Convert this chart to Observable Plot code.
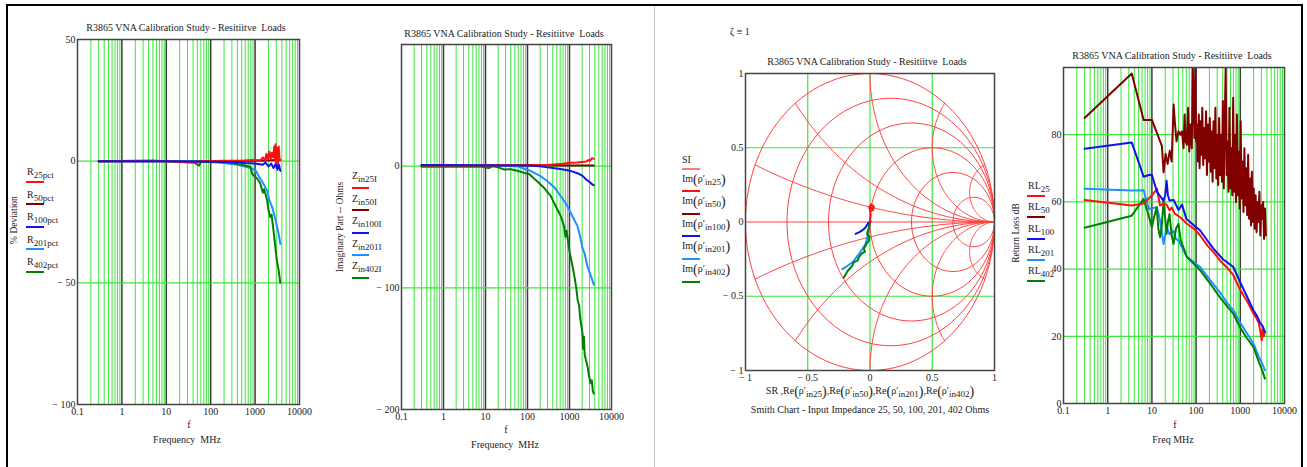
<!DOCTYPE html>
<html><head><meta charset="utf-8">
<script src="https://cdn.jsdelivr.net/npm/d3@7"></script>
<script src="https://cdn.jsdelivr.net/npm/@observablehq/plot@0.6"></script>
<style>
body{margin:0;background:#fff;}
#root{position:relative;width:1307px;height:467px;overflow:hidden;font-family:"Liberation Serif","Times New Roman",serif;color:#222;}
.t{position:absolute;white-space:nowrap;font-size:10px;line-height:1;}
.c{transform:translate(-50%,-50%);}
.l{transform:translate(0,-50%);}
.rot{transform:translate(-50%,-50%) rotate(-90deg);font-size:9.5px;}
.t sub{font-size:9px;vertical-align:-3px;line-height:0;}
.big{font-size:14px;vertical-align:-2px;}
.ln{position:absolute;height:2px;}
.bar{position:absolute;background:#000;}
</style></head><body><div id="root"></div><script>
// ---------- data ----------
const xTicks = [0.1, 1, 10, 100, 1000, 10000];
const decades = [0.1, 1, 10, 100, 1000];
const decadeLines = [1, 10, 100, 1000];
const chartTitle = "R3865 VNA Calibration Study - Resitiitve\u00a0 Loads";

// Panel 1: % deviation [freq MHz, %]
const r25pct = [[0.3,0],[5,0.3],[20,-0.3],[40,-0.6],[60,0],[200,0.2],[600,0.3],[1000,0.5],[1300,0.3],[1500,1.5],[1700,0.5],[1800,3],[1950,0.8],[2100,4],[2250,1],[2400,3.5],[2550,1.5],[2700,6],[2800,0.5],[2900,7],[3000,-1],[3100,5.5],[3250,-2],[3400,6],[3550,1],[3700,0.5]];
const r50pct = [[0.3,0],[100,0],[1000,0.2],[3700,0.5]];
const r100pct = [[0.3,0],[10,0],[100,-0.2],[300,-0.3],[600,-0.8],[1000,-1],[1500,-1.5],[1700,-0.5],[2000,-2.2],[2300,-1],[2600,-2.8],[2900,-1.2],[3200,-3.5],[3450,-1.5],[3700,-4]];
const r201pct = [[0.3,0],[30,0],[100,-0.3],[200,-0.8],[400,-1.5],[700,-2.5],[1020,-3.7],[1200,-6],[1450,-8.5],[1860,-12],[2100,-16],[2430,-19],[2880,-24],[3400,-30],[3700,-34]];
const r402pct = [[0.3,0],[10,0],[40,-0.3],[55,-1.8],[60,-0.2],[150,-0.3],[300,-0.8],[500,-1.5],[780,-2.3],[850,-5],[920,-5.8],[1100,-7],[1300,-9],[1500,-13],[1600,-11.5],[1860,-16],[2000,-20],[2200,-23],[2350,-22],[2600,-28.5],[2800,-34],[3100,-41],[3400,-45],[3700,-50]];

// Panel 2: imaginary part, ohms
const zin25I = [[0.3,0.5],[10,0.5],[100,1],[300,1],[700,2],[1000,2.8],[1500,3],[2000,3.5],[2500,3.8],[2800,5],[3100,4.5],[3400,6.5],[3800,6]];
const zin50I = [[0.3,0.5],[3800,0.5]];
const zin100I = [[0.3,1],[100,0.5],[200,0],[300,-1],[500,-2],[900,-3.3],[1200,-4.5],[1600,-6],[2040,-8],[2500,-11],[3000,-13],[3500,-15],[3800,-15.7]];
const zin201I = [[0.3,0.5],[10,0.5],[57,0],[90,-2.5],[120,-4],[200,-8],[300,-12.4],[450,-18],[620,-24.7],[800,-30],[980,-35.7],[1250,-43],[1560,-49.5],[1800,-58],[2030,-67],[2300,-72],[2660,-82],[3200,-90],[3800,-97.5]];
const zin402I = [[0.3,-0.5],[8,-0.5],[12,-1.5],[15,0],[20,-1],[28,-2.7],[40,-2.5],[60,-4],[83,-5.5],[110,-6.5],[140,-10],[170,-12.4],[250,-18],[360,-24.7],[470,-33],[620,-41],[750,-50],[800,-58],[850,-53],[900,-59],[1000,-70],[1140,-79.6],[1300,-90],[1450,-100],[1560,-110],[1700,-115],[1800,-125],[2030,-137],[2100,-150],[2200,-140],[2300,-155],[2450,-159],[2700,-165],[2900,-172],[3200,-178.5],[3400,-176],[3600,-185],[3800,-187]];

// Panel 3: Smith chart reflection coefficients [Re, Im]
const rho25 = [[0,0],[0.005,0.05],[0,0.08],[-0.005,0.1],[0.01,0.12],[0.03,0.105],[0.025,0.08],[0.005,0.075],[-0.005,0.095],[0.03,0.095]];
const rho50 = [[0,0],[0.005,0.005],[0,0.01]];
const rho100 = [[0,0],[-0.01,-0.003],[-0.02,-0.015],[-0.036,-0.037],[-0.06,-0.055],[-0.085,-0.068],[-0.116,-0.08]];
const rho201 = [[0,0],[-0.005,-0.03],[-0.01,-0.06],[-0.02,-0.1],[-0.036,-0.149],[-0.06,-0.18],[-0.09,-0.216],[-0.12,-0.25],[-0.143,-0.273],[-0.18,-0.295],[-0.223,-0.317]];
const rho402 = [[0,0],[-0.01,-0.04],[-0.023,-0.081],[-0.005,-0.1],[-0.01,-0.127],[-0.03,-0.15],[-0.05,-0.18],[-0.04,-0.2],[-0.07,-0.215],[-0.09,-0.239],[-0.1,-0.26],[-0.13,-0.27],[-0.143,-0.295],[-0.18,-0.33],[-0.21,-0.374]];
const smithR = [0.2, 0.5, 1, 2, 5];
const smithX = [0.2, 0.5, 1, 2, 5];
const smithTicks = [-1, -0.5, 0, 0.5, 1];

// Panel 4: return loss dB
const rl25 = [[0.3,60.6],[3.5,58.9],[6.5,59.5],[10,61.9],[13,63.9],[15.3,58.9],[18,59.5],[21.5,59.2],[25,57.5],[28,58.3],[33,56.5],[44,55.4],[62,53.5],[90,52],[124,50],[180,47],[250,45],[350,42.5],[500,40.5],[700,38.1],[900,35],[1200,32],[1500,30],[1990,26.7],[2300,25.5],[2600,24],[2800,22],[3050,18.8],[3200,22],[3400,20],[3600,21.3]];
const rl50 = [[0.3,85],[3.5,98.2],[6.5,84.4],[10,84.4],[16.8,76.7],[18.4,68.8],[20.4,74.3],[22.7,71.3],[25.3,75.2],[28,72],[31,89],[33,84],[36,78],[40,81],[44,80],[48,81],[52,76],[55,86],[58,78],[62,77],[66,88],[70,75],[74,83],[80,76],[84,100],[88,90],[92,79],[96,100],[100,78],[105,83],[110,72],[115,86],[120,70],[126,84],[132,74],[138,88],[145,71],[152,82],[160,73],[168,87],[176,68],[185,83],[194,72],[204,85],[214,69],[225,81],[236,66],[248,84],[260,70],[273,88],[287,67],[301,80],[316,65],[332,85],[349,68],[366,80],[384,66],[403,90],[423,64],[445,84],[467,100],[490,68],[515,78],[540,63],[567,88],[596,64],[625,76],[657,62],[690,91],[724,63],[760,80],[798,60],[838,86],[880,62],[924,75],[970,58],[1019,84],[1070,61],[1123,72],[1180,57],[1239,76],[1300,59],[1365,70],[1434,56],[1506,74],[1580,55],[1660,67],[1743,53],[1830,69],[1922,54],[2018,64],[2119,52],[2225,62],[2336,51],[2453,60],[2575,54],[2704,63],[2840,50],[2982,59],[3131,55],[3287,60],[3450,49],[3620,58],[3800,50]];
const rl100 = [[0.3,75.8],[3.5,77.7],[6.5,67.5],[8.5,68],[10,68.1],[13,63],[18.3,60.4],[20,62],[21.5,66.3],[23,62],[25,60.4],[31,60.6],[40,57.6],[48,59.2],[60,55],[90,53],[124,51.5],[180,48.5],[250,46],[400,43],[700,40.6],[1000,36],[1400,32],[1990,27.7],[2400,26],[2800,24],[3200,23],[3600,21.3]];
const rl201 = [[0.3,63.9],[3.5,63.4],[6.5,63.5],[8.5,57.9],[13,58.4],[15,55],[18.3,47.5],[21.5,52.4],[25,50.4],[31,51.4],[35,49],[40,48.5],[62,43.6],[90,42],[124,40.6],[200,37],[350,33],[500,30],[700,27.7],[1000,24],[1400,21],[1990,17.8],[2600,14],[3100,12],[3600,9.9]];
const rl402 = [[0.3,52.3],[3.5,55.9],[6.5,60.9],[8,57],[10,52.5],[11,55],[12.8,58.4],[14,52],[15.3,49.5],[16.5,52],[18.4,60.4],[20,55],[21.5,50.5],[23,54],[25,56.4],[28,50],[31,47.5],[35,52],[40,53.5],[45,48.5],[62,43.6],[90,41.5],[124,39.6],[200,36],[350,31.5],[500,29],[700,26.7],[1000,22.5],[1400,19.5],[1990,16.8],[2600,12.5],[3100,10],[3600,7.4]];

// ---------- styles ----------
const C = {red:"#ff1010", dred:"#800000", blue:"#1010f0", lblue:"#2090ff", green:"#008000", grid:"#3ee63e", smith:"#ff4040"};
const root = document.getElementById("root");
const fmt = d => d < 0 ? "\u2212 " + Math.abs(d) : String(d);

function place(svg, left, top) {
  svg.style.position = "absolute"; svg.style.left = left + "px"; svg.style.top = top + "px";
  root.appendChild(svg);
}
function text(html, x, y, cls) {
  const d = document.createElement("div");
  d.className = "t " + (cls || "c"); d.innerHTML = html;
  d.style.left = x + "px"; d.style.top = y + "px"; root.appendChild(d);
}
function seg(x, y, w, color) {
  const d = document.createElement("div"); d.className = "ln";
  d.style.left = x + "px"; d.style.top = (y - 1) + "px"; d.style.width = w + "px"; d.style.background = color;
  root.appendChild(d);
}
function box(x, y, w, h, color) {
  const d = document.createElement("div"); d.className = "bar";
  Object.assign(d.style, {left:x+"px", top:y+"px", width:w+"px", height:h+"px", background:color});
  root.appendChild(d);
}
const minor = [];
for (const d of decades) for (let k = 2; k < 10; k++) minor.push(d * k);

function logPanel({series, yDomain, yTicks, hGrid, width, height, ml, mr, mt, mb}) {
  return Plot.plot({
    width, height, marginLeft: ml, marginRight: mr, marginTop: mt, marginBottom: mb,
    style: {fontFamily: "Liberation Serif, serif", fontSize: "10px", background: "transparent", overflow: "visible", color: "#222"},
    x: {type: "log", domain: [0.1, 10000]},
    y: {domain: yDomain},
    marks: [
      Plot.ruleX(minor, {x: d => d, stroke: C.grid, strokeWidth: 1}),
      Plot.ruleX(decadeLines, {x: d => d, stroke: "#3a3a3a", strokeWidth: 1.5}),
      Plot.ruleY(hGrid, {y: d => d, stroke: C.grid, strokeWidth: 1.2}),
      ...series.map(([data, color]) => Plot.line(data, {x: d => d[0], y: d => d[1], stroke: color, strokeWidth: 2, clip: true})),
      Plot.frame({stroke: "#444", strokeWidth: 1.5}),
      Plot.axisX({ticks: xTicks, tickSize: 0, tickPadding: 3, tickFormat: d => String(d), label: null}),
      Plot.axisY({ticks: yTicks, tickSize: 0, tickPadding: 2, tickFormat: fmt, label: null})
    ]
  });
}

// ---------- frame ----------
box(6, 4, 1297, 2, "#000");
box(6, 4, 2, 463, "#000");
box(1301, 4, 2, 463, "#000");
box(654, 6, 1, 461, "#c4c4c4");

// ---------- Panel 1 ----------
place(logPanel({
  series: [[r50pct, C.dred], [r201pct, C.lblue], [r402pct, C.green], [r25pct, C.red], [r100pct, C.blue]],
  yDomain: [-100, 50], yTicks: [50, 0, -50, -100], hGrid: [0, -50],
  width: 330, height: 467, ml: 77, mr: 31, mt: 39, mb: 63
}), 0, 0);
text(chartTitle, 186, 28);
text("% Deviation", 15, 220, "rot");
[["R<sub>25pct</sub>", C.red], ["R<sub>50pct</sub>", C.dred], ["R<sub>100pct</sub>", C.blue], ["R<sub>201pct</sub>", C.lblue], ["R<sub>402pct</sub>", C.green]]
  .forEach(([lab, col], i) => { const y = 172 + i * 22.6; text(lab, 27, y, "l"); seg(26, y + 9.5, 18, col); });
text("f", 189, 425);
text("Frequency\u00a0 MHz", 187, 440);

// ---------- Panel 2 ----------
place(logPanel({
  series: [[zin50I, C.dred], [zin201I, C.lblue], [zin402I, C.green], [zin25I, C.red], [zin100I, C.blue]],
  yDomain: [-200, 100], yTicks: [0, -100, -200], hGrid: [0, -100],
  width: 320, height: 467, ml: 71, mr: 39, mt: 44, mb: 58
}), 330, 0);
text(chartTitle, 504, 34);
text("Imaginary Part -- Ohms", 341, 227, "rot");
[["Z<sub>in25I</sub>", C.red], ["Z<sub>in50I</sub>", C.dred], ["Z<sub>in100I</sub>", C.blue], ["Z<sub>in201I</sub>", C.lblue], ["Z<sub>in402I</sub>", C.green]]
  .forEach(([lab, col], i) => { const y = 176 + i * 22.6; text(lab, 352, y, "l"); seg(352, y + 11.5, 17, col); });
text("f", 506, 430);
text("Frequency\u00a0 MHz", 505, 445);

// ---------- Panel 3: Smith chart ----------
const smithGrid = [];
const N = 120;
// unit circle and constant-resistance circles
[0, ...smithR].forEach((r, i) => {
  const cx = r / (1 + r), rad = 1 / (1 + r);
  for (let k = 0; k <= N; k++) { const a = 2 * Math.PI * k / N; smithGrid.push({x: cx + rad * Math.cos(a), y: rad * Math.sin(a), id: "r" + i}); }
});
// constant-reactance arcs
smithX.forEach((xv, i) => [1, -1].forEach(s => {
  const cy = s / xv, rad = 1 / xv;
  const px = (xv * xv - 1) / (xv * xv + 1), py = s * 2 * xv / (xv * xv + 1);
  const a0 = -s * Math.PI / 2;
  let a1 = Math.atan2(py - cy, px - 1);
  if (s > 0 && a1 > a0) a1 -= 2 * Math.PI;
  if (s < 0 && a1 < a0) a1 += 2 * Math.PI;
  for (let k = 0; k <= N; k++) { const a = a0 + (a1 - a0) * k / N; smithGrid.push({x: 1 + rad * Math.cos(a), y: cy + rad * Math.sin(a), id: "x" + i + s}); }
}));
smithGrid.push({x: -1, y: 0, id: "axis"}, {x: 1, y: 0, id: "axis"});

place(Plot.plot({
  width: 345, height: 467, marginLeft: 90, marginRight: 6, marginTop: 73, marginBottom: 97,
  style: {fontFamily: "Liberation Serif, serif", fontSize: "10px", background: "transparent", overflow: "visible", color: "#222"},
  x: {domain: [-1, 1]}, y: {domain: [-1, 1]},
  marks: [
    Plot.ruleX([-0.5, 0.5], {x: d => d, stroke: C.grid, strokeWidth: 1.2}),
    Plot.ruleX([0], {x: d => d, stroke: "#8cf08c", strokeWidth: 2}),
    Plot.ruleY([-0.5, 0.5], {y: d => d, stroke: C.grid, strokeWidth: 1.2}),
    Plot.line(smithGrid, {x: "x", y: "y", z: "id", stroke: C.smith, strokeWidth: 1}),
    ...[[rho50, C.dred], [rho201, C.lblue], [rho402, C.green], [rho100, C.blue], [rho25, C.red]]
      .map(([data, color]) => Plot.line(data, {x: d => d[0], y: d => d[1], stroke: color, strokeWidth: 2})),
    Plot.frame({stroke: "#444", strokeWidth: 1.5}),
    Plot.axisX({ticks: smithTicks, tickSize: 0, tickPadding: 3, tickFormat: fmt, label: null}),
    Plot.axisY({ticks: smithTicks, tickSize: 0, tickPadding: 2, tickFormat: fmt, label: null})
  ]
}), 655, 0);
text("\u03b6 \u2261 1", 730, 32, "l");
text(chartTitle, 867, 62);
[["SI", "#ff7a7a"], ["Im<span class=big>(</span>\u03c1\u2032<sub>in25</sub><span class=big>)</span>", C.red], ["Im<span class=big>(</span>\u03c1\u2032<sub>in50</sub><span class=big>)</span>", C.dred],
 ["Im<span class=big>(</span>\u03c1\u2032<sub>in100</sub><span class=big>)</span>", C.blue], ["Im<span class=big>(</span>\u03c1\u2032<sub>in201</sub><span class=big>)</span>", C.lblue], ["Im<span class=big>(</span>\u03c1\u2032<sub>in402</sub><span class=big>)</span>", C.green]]
  .forEach(([lab, col], i) => { const y = i === 0 ? 160 : 157 + i * 22.6; text(lab, 682, y, "l"); seg(682, (i === 0 ? 168.5 : y + 11.5), 18, col); });
text("SR ,Re<span class=big>(</span>\u03c1\u2032<sub>in25</sub><span class=big>)</span>,Re<span class=big>(</span>\u03c1\u2032<sub>in50</sub><span class=big>)</span>,Re<span class=big>(</span>\u03c1\u2032<sub>in201</sub><span class=big>)</span>,Re<span class=big>(</span>\u03c1\u2032<sub>in402</sub><span class=big>)</span>", 870, 392);
text("Smith Chart - Input Impedance 25, 50, 100, 201, 402 Ohms", 870, 410);

// ---------- Panel 4 ----------
place(logPanel({
  series: [[rl50, C.dred], [rl201, C.lblue], [rl402, C.green], [rl25, C.red], [rl100, C.blue]],
  yDomain: [0, 100], yTicks: [0, 20, 40, 60, 80], hGrid: [20, 40, 60, 80],
  width: 307, height: 467, ml: 63, mr: 23, mt: 67, mb: 64
}), 1000, 0);
text(chartTitle, 1172, 56);
text("Return Loss dB", 1017, 233, "rot");
[["RL<sub>25</sub>", C.red], ["RL<sub>50</sub>", C.dred], ["RL<sub>100</sub>", C.blue], ["RL<sub>201</sub>", C.lblue], ["RL<sub>402</sub>", C.green]]
  .forEach(([lab, col], i) => { const y = 186 + i * 21.3; text(lab, 1028, y, "l"); seg(1027, y + 10, 18, col); });
text("f", 1175, 425);
text("Freq MHz", 1173, 440);
</script></body></html>
